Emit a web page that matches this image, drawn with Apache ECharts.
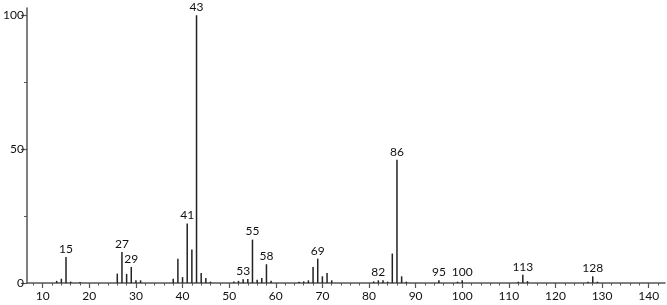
<!DOCTYPE html>
<html><head><meta charset="utf-8">
<script src="https://cdn.jsdelivr.net/npm/echarts@6/dist/echarts.min.js"></script>
<style>html,body{margin:0;padding:0;background:#fff}#c{width:667px;height:305px}</style>
</head><body><div id="c"></div>
<script>
const mz =        [13, 14, 15, 16, 18, 26, 27, 28, 29, 30, 31, 38, 39, 40, 41, 42, 43, 44, 45, 46, 51, 52, 53, 54, 55, 56, 57, 58, 59, 65, 66, 67, 68, 69, 70, 71, 72, 81, 82, 83, 84, 85, 86, 87, 88, 95, 99, 100, 112, 113, 114, 127, 128, 129];
const intensity = [0.8,1.6,9.7,0.5,0.4,3.5,11.6,3.4,6.0,1.0,1.0,1.6,9.1,2.2,22.2,12.5,100,3.7,1.9,0.5,0.6,0.8,1.4,1.5,16.2,1.2,1.9,7.0,0.8,0.5,0.6,1.0,6.0,9.1,2.5,3.7,1.0,0.6,1.0,1.0,0.5,11.0,46.0,2.5,0.5,1.0,0.5,1.0,0.5,3.1,0.7,0.5,2.5,0.5];
const labeled = [15, 27, 29, 41, 43, 53, 55, 58, 69, 82, 86, 95, 100, 113, 128];
const xMajor = [10, 20, 30, 40, 50, 60, 70, 80, 90, 100, 110, 120, 130, 140];
const xMinor = [8,12,14,16,18,22,24,26,28,32,34,36,38,42,44,46,48,52,54,56,58,62,64,66,68,72,74,76,78,82,84,86,88,92,94,96,98,102,104,106,108,112,114,116,118,122,124,126,128,132,134,136,138,142];
const yMajor = [0, 50, 100];
const yMinor = [25, 75];
const X_MIN = 6.63, X_MAX = 143.5, Y_MAX = 102.7;

const chart = echarts.init(document.getElementById('c'), null, {renderer: 'canvas'});
const font = 'Lato, "DejaVu Sans", sans-serif';
const data = mz.map((m, i) => {
  const item = {value: [m, intensity[i]]};
  if (labeled.includes(m)) {
    item.label = {show: true, position: 'top', formatter: String(m), distance: 2,
      color: '#111', fontSize: 12, fontFamily: font};
  }
  return item;
});
const gridCfg = {left: 27, right: 2, top: 8, bottom: 22};
chart.setOption({
  animation: false,
  grid: gridCfg,
  xAxis: [{
    type: 'value', min: X_MIN, max: X_MAX, position: 'bottom',
    axisLine: {show: true, onZero: false, lineStyle: {color: '#555', width: 1.5}},
    axisTick: {show: true, length: 5, customValues: xMajor, lineStyle: {color: '#555', width: 1.2}},
    axisLabel: {show: true, customValues: xMajor, color: '#111', fontSize: 12, fontFamily: font, margin: 7},
    splitLine: {show: false}
  }, {
    type: 'value', min: X_MIN, max: X_MAX, position: 'bottom',
    axisLine: {show: false, onZero: false},
    axisTick: {show: true, length: 2.5, customValues: xMinor, lineStyle: {color: '#555', width: 1}},
    axisLabel: {show: false},
    splitLine: {show: false}
  }],
  yAxis: [{
    type: 'value', min: 0, max: Y_MAX, position: 'left',
    axisLine: {show: true, lineStyle: {color: '#555', width: 1.5}},
    axisTick: {show: true, length: 6, customValues: yMajor, lineStyle: {color: '#555', width: 1.2}},
    axisLabel: {show: true, customValues: yMajor, color: '#111', fontSize: 12, fontFamily: font, margin: 3},
    splitLine: {show: false}
  }, {
    type: 'value', min: 0, max: Y_MAX, position: 'left',
    axisLine: {show: false},
    axisTick: {show: true, length: 3, customValues: yMinor, lineStyle: {color: '#555', width: 1}},
    axisLabel: {show: false},
    splitLine: {show: false}
  }],
  series: [{
    type: 'bar', xAxisIndex: 0, yAxisIndex: 0, barWidth: 1.5,
    itemStyle: {color: '#222'},
    data: data
  }]
});
</script></body></html>
